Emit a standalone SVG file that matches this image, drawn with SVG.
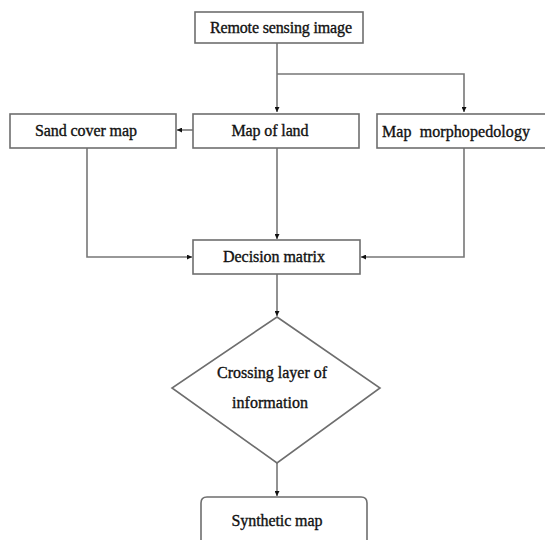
<svg xmlns="http://www.w3.org/2000/svg" width="545" height="540" viewBox="0 0 545 540">
<style>
.box{fill:#fff;stroke:#6e6e6e;stroke-width:1.6}
.lbl{font-family:"Liberation Serif","Times New Roman",serif;font-size:16px;fill:#111;stroke:#111;stroke-width:0.35}
.mid{text-anchor:middle}
.con{fill:none;stroke:#777;stroke-width:1.6}
</style>
<defs>
<marker id="ah" viewBox="0 0 10 10" refX="10" refY="5" markerWidth="5" markerHeight="5" orient="auto" markerUnits="userSpaceOnUse">
<path d="M0,0 L10,5 L0,10 z" fill="#111"/>
</marker>
</defs>
<rect width="545" height="540" fill="#fff"/>
<g id="connectors">
<path class="con" d="M277,43 V112" marker-end="url(#ah)"/>
<path class="con" d="M277,74 H464 V112" marker-end="url(#ah)"/>
<path class="con" d="M193,130 H177" marker-end="url(#ah)"/>
<path class="con" d="M87,148 V257 H192" marker-end="url(#ah)"/>
<path class="con" d="M277,148 V239" marker-end="url(#ah)"/>
<path class="con" d="M464,148 V257 H361" marker-end="url(#ah)"/>
<path class="con" d="M277,274 V316" marker-end="url(#ah)"/>
<path class="con" d="M277,463 V496" marker-end="url(#ah)"/>
</g>
<g id="remote">
<rect class="box" x="195" y="12" width="168" height="31"/>
<text class="lbl mid" x="281" y="33" textLength="142">Remote sensing image</text>
</g>
<g id="sand">
<rect class="box" x="10" y="114" width="166" height="34"/>
<text class="lbl mid" x="86" y="136" textLength="102">Sand cover map</text>
</g>
<g id="land">
<rect class="box" x="193" y="114" width="166" height="34"/>
<text class="lbl mid" x="270" y="136" textLength="77">Map of land</text>
</g>
<g id="morpho">
<rect class="box" x="377" y="114" width="172" height="34"/>
<text class="lbl" x="382" y="137" textLength="148" xml:space="preserve">Map  morphopedology</text>
</g>
<g id="decision">
<rect class="box" x="193" y="240" width="167" height="34"/>
<text class="lbl mid" x="274" y="262" textLength="102">Decision matrix</text>
</g>
<g id="crossing">
<polygon class="box" points="277,317 380,388 277,463 172,388"/>
<text class="lbl mid" x="272" y="378" textLength="110">Crossing layer of</text>
<text class="lbl mid" x="270" y="408" textLength="76">information</text>
</g>
<g id="synthetic">
<path class="box" d="M201,545 V503 Q201,497 207,497 H361 Q367,497 367,503 V545"/>
<text class="lbl mid" x="277" y="526" textLength="91">Synthetic map</text>
</g>
</svg>
